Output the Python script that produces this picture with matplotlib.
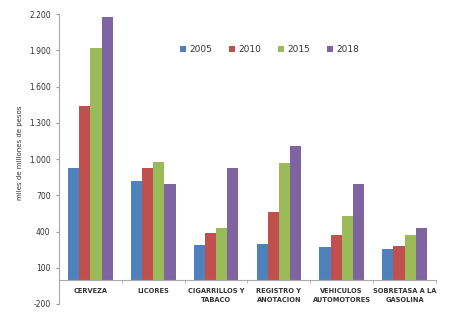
import matplotlib
matplotlib.use("Agg")
import matplotlib.pyplot as plt
from matplotlib import font_manager
import numpy as np

categories = ["CERVEZA", "LICORES", "CIGARRILLOS Y\nTABACO", "REGISTRO Y\nANOTACION",
              "VEHICULOS\nAUTOMOTORES", "SOBRETASA A LA\nGASOLINA"]
years = ["2005", "2010", "2015", "2018"]
v2005 = [926, 818, 289, 295, 273, 256]
v2010 = [1438, 928, 388, 562, 369, 278]
v2015 = [1923, 975, 430, 967, 529, 369]
v2018 = [2179, 791, 928, 1107, 796, 430]
series = [v2005, v2010, v2015, v2018]
colors = ["#4F81BD", "#C0504D", "#9BBB59", "#8064A2"]
yticks = [-200, 100, 400, 700, 1000, 1300, 1600, 1900, 2200]

names = {f.name for f in font_manager.fontManager.ttflist}
narrow = "Liberation Sans Narrow" if "Liberation Sans Narrow" in names else "DejaVu Sans"

fig = plt.figure(figsize=(4.52, 3.21), dpi=100)
ax = fig.add_axes([0.1305, 0.053, 0.834, 0.903])

x = np.arange(len(categories))
w = 0.178
for i, (vals, c, lab) in enumerate(zip(series, colors, years)):
    ax.bar(x + (i - 1.5) * w, vals, w, color=c, label=lab, zorder=2)

ax.set_xlim(-0.5, len(categories) - 0.5)
ax.set_ylim(-200, 2200)
ax.set_yticks(yticks)
ax.set_yticklabels([f"{t:,}".replace(",", ".") for t in yticks], fontsize=5.5, color="#333333")
ax.tick_params(axis="y", length=2, color="#999999", pad=4)

ax.spines["bottom"].set_position(("data", 0))
ax.spines["bottom"].set_color("#aaaaaa")
ax.spines["left"].set_color("#aaaaaa")
ax.spines["top"].set_visible(False)
ax.spines["right"].set_visible(False)
ax.set_xticks(x)
ax.set_xticklabels(categories, fontsize=4.8, fontweight="bold", color="#333333", linespacing=1.6)
ax.tick_params(axis="x", which="major", length=0, pad=6)
ax.set_xticks(np.arange(-0.5, len(categories)), minor=True)
ax.tick_params(axis="x", which="minor", length=2, color="#aaaaaa", direction="out")

fig.text(0.044, 0.525, "miles de millones de pesos", rotation=90, fontsize=5,
         ha="center", va="center", color="#333333", family=narrow)

leg = ax.legend(loc="upper left", bbox_to_anchor=(0.3, 0.92), ncol=4, frameon=False,
                fontsize=6.5, handlelength=0.6, handleheight=0.6, handletextpad=0.4,
                columnspacing=1.9)
for t in leg.get_texts():
    t.set_color("#333333")

fig.savefig("out.png", dpi=100)
